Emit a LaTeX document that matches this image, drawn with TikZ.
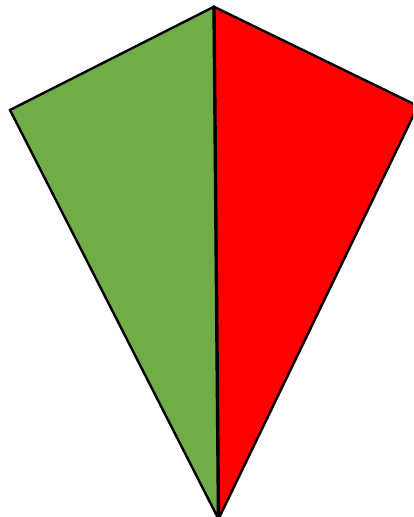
\documentclass[tikz,border=0pt]{standalone}
\definecolor{kitegreen}{HTML}{70AD47}
\definecolor{kitered}{HTML}{FF0000}
\tikzset{half/.style={draw=black,line width=2.4pt,line join=miter}}
\begin{document}
\begin{tikzpicture}[x=1pt,y=-1pt]
\useasboundingbox (0,0) rectangle (413,517);
\coordinate (T) at (213.5,7);
\coordinate (L) at (10,110);
\coordinate (R) at (418,106);
\coordinate (B) at (218,518);
\coordinate (T2) at (214.5,7);
\coordinate (B2) at (219,518);
\begin{scope}
\clip (0,0) rectangle (413,517);
\draw[half,fill=kitegreen] (T) -- (L) -- (B) -- cycle;
\draw[half,fill=kitered] (T2) -- (R) -- (B2) -- cycle;
\end{scope}
\end{tikzpicture}
\end{document}
